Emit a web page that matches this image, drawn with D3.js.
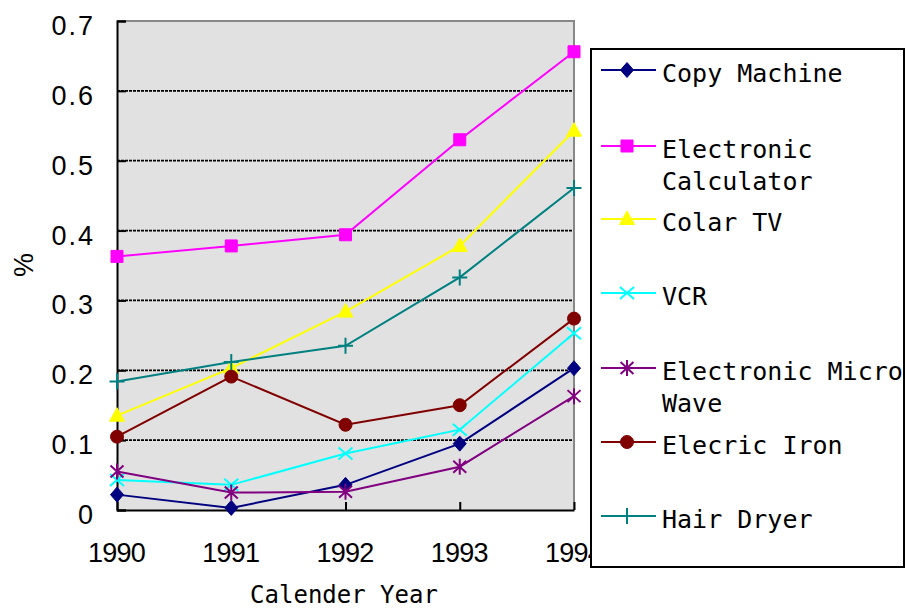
<!DOCTYPE html>
<html><head><meta charset="utf-8">
<script src="https://cdn.jsdelivr.net/npm/d3@7"></script>
<style>
html,body{margin:0;padding:0;background:#fff;}
svg{display:block;}
</style></head>
<body>
<svg id="chart" width="906" height="612"></svg>
<script>
const years = ["1990","1991","1992","1993","1994"];
const seriesNames = ["Copy Machine","Electronic Calculator","Colar TV","VCR","Electronic Micro Wave","Elecric Iron","Hair Dryer"];
const legendLines = [["Copy Machine"],["Electronic","Calculator"],["Colar TV"],["VCR"],["Electronic Micro","Wave"],["Elecric Iron"],["Hair Dryer"]];
const copyMachine = [0.022, 0.003, 0.036, 0.095, 0.203];
const electronicCalculator = [0.363, 0.378, 0.394, 0.530, 0.656];
const colarTV = [0.135, 0.203, 0.284, 0.378, 0.543];
const vcr = [0.043, 0.036, 0.081, 0.115, 0.253];
const microWave = [0.055, 0.025, 0.026, 0.062, 0.163];
const elecricIron = [0.105, 0.191, 0.122, 0.150, 0.274];
const hairDryer = [0.184, 0.212, 0.235, 0.333, 0.461];
const yTicks = [0, 0.1, 0.2, 0.3, 0.4, 0.5, 0.6, 0.7];
const colors = ["#000080","#ff00ff","#ffff00","#00ffff","#800080","#800000","#008080"];
const markerTypes = ["diamond","square","triangle","x","asterisk","circle","plus"];
const allValues = [copyMachine, electronicCalculator, colarTV, vcr, microWave, elecricIron, hairDryer];

const series = seriesNames.map((n,i)=>({name:n, values:allValues[i], color:colors[i], marker:markerTypes[i], lines:legendLines[i]}));

const svg = d3.select("#chart");
const L = 117, R = 574, T = 21, B = 510;
const x = d3.scalePoint().domain(years).range([L, R]);
const y = d3.scaleLinear().domain([0, 0.7]).range([B, T]);

// plot background
svg.append("rect").attr("x", L).attr("y", T).attr("width", R - L).attr("height", B - T).attr("fill", "#e1e1e1");

// gridlines
svg.append("g").selectAll("line").data(yTicks.filter(v => v > 0 && v < 0.7)).join("line")
  .attr("x1", L).attr("x2", R).attr("y1", d => y(d)).attr("y2", d => y(d))
  .attr("stroke", "#000").attr("stroke-width", 1.8).attr("stroke-dasharray", "3,1");

// gray top/right border
svg.append("path").attr("d", `M${L},${T}H${R}V${B}`).attr("fill", "none").attr("stroke", "#888").attr("stroke-width", 2);

// y axis
const yAxis = svg.append("g").attr("transform", `translate(${L},0)`)
  .call(d3.axisLeft(y).tickValues(yTicks).tickFormat(d => d === 0 ? "0" : d3.format(".1f")(d)).tickSize(-9).tickPadding(22));
yAxis.select(".domain").attr("stroke", "#000").attr("stroke-width", 2);
yAxis.selectAll(".tick line").attr("stroke", "#000").attr("stroke-width", 2);
yAxis.selectAll(".tick text").attr("font-family", "'Liberation Sans', Arial, sans-serif").attr("font-size", 27)
  .attr("fill", "#000").attr("letter-spacing", 2).attr("dy", "0.5em");

// x axis
const xAxis = svg.append("g").attr("transform", `translate(0,${B})`)
  .call(d3.axisBottom(x).tickSize(-8).tickPadding(33).tickSizeOuter(0));
xAxis.select(".domain").attr("stroke", "#000").attr("stroke-width", 2);
xAxis.selectAll(".tick line").attr("stroke", "#000").attr("stroke-width", 2);
xAxis.selectAll(".tick text").attr("font-family", "'Liberation Sans', Arial, sans-serif").attr("font-size", 27)
  .attr("fill", "#000").attr("letter-spacing", -0.8).attr("dx", -1);

// axis titles
svg.append("text").attr("x", 344).attr("y", 603).attr("text-anchor", "middle")
  .attr("font-family", "'DejaVu Sans Mono', monospace").attr("font-size", 24).attr("fill", "#000").text("Calender Year");
svg.append("text").attr("transform", "translate(33,265) rotate(-90)").attr("text-anchor", "middle")
  .attr("font-family", "'Liberation Sans', Arial, sans-serif").attr("font-size", 27).attr("fill", "#000").text("%");

function markerPath(type) {
  const p = d3.path();
  switch (type) {
    case "diamond": p.moveTo(0,-7.5); p.lineTo(6.5,0); p.lineTo(0,7.5); p.lineTo(-6.5,0); p.closePath(); break;
    case "square": p.rect(-6,-6,12,12); break;
    case "triangle": p.moveTo(0,-8); p.lineTo(7.5,5.5); p.lineTo(-7.5,5.5); p.closePath(); break;
    case "circle": p.arc(0,0,6.5,0,2*Math.PI); break;
    case "x": p.moveTo(-7,-6); p.lineTo(7,6); p.moveTo(-7,6); p.lineTo(7,-6); break;
    case "asterisk": p.moveTo(-6.5,-6); p.lineTo(6.5,6); p.moveTo(-6.5,6); p.lineTo(6.5,-6); p.moveTo(0,-8); p.lineTo(0,8); break;
    case "plus": p.moveTo(-7.5,0); p.lineTo(7.5,0); p.moveTo(0,-8); p.lineTo(0,8); break;
  }
  return p.toString();
}
const filled = t => ["diamond","square","triangle","circle"].includes(t);

function drawMarker(g, s) {
  g.append("path").attr("d", markerPath(s.marker))
    .attr("fill", filled(s.marker) ? s.color : "none")
    .attr("stroke", s.color).attr("stroke-width", filled(s.marker) ? 1 : 2);
}

const line = d3.line().x((d,i) => x(years[i])).y(d => y(d));
const sg = svg.append("g").selectAll("g").data(series).join("g");
sg.append("path").attr("d", d => line(d.values)).attr("fill", "none")
  .attr("stroke", d => d.color).attr("stroke-width", 2);
sg.each(function(s) {
  const g = d3.select(this);
  s.values.forEach((v, i) => {
    const m = g.append("g").attr("transform", `translate(${x(years[i])},${y(v)})`);
    drawMarker(m, s);
  });
});

// legend
const lg = svg.append("g");
lg.append("rect").attr("x", 591).attr("y", 49).attr("width", 313).attr("height", 518)
  .attr("fill", "#fff").attr("stroke", "#000").attr("stroke-width", 2);
const legendY = [70, 146, 219, 293, 368, 442, 516];
series.forEach((s, i) => {
  const g = lg.append("g").attr("transform", `translate(0,${legendY[i]})`);
  g.append("line").attr("x1", 601).attr("x2", 656).attr("y1", 0).attr("y2", 0).attr("stroke", s.color).attr("stroke-width", 2);
  const m = g.append("g").attr("transform", "translate(627,0)");
  drawMarker(m, s);
  const t = g.append("text").attr("font-family", "'DejaVu Sans Mono', monospace").attr("font-size", 25).attr("fill", "#000");
  s.lines.forEach((ln, k) => {
    t.append("tspan").attr("x", 662).attr("y", 11.5 + k * 32.5).text(ln);
  });
});
</script>
</body></html>
